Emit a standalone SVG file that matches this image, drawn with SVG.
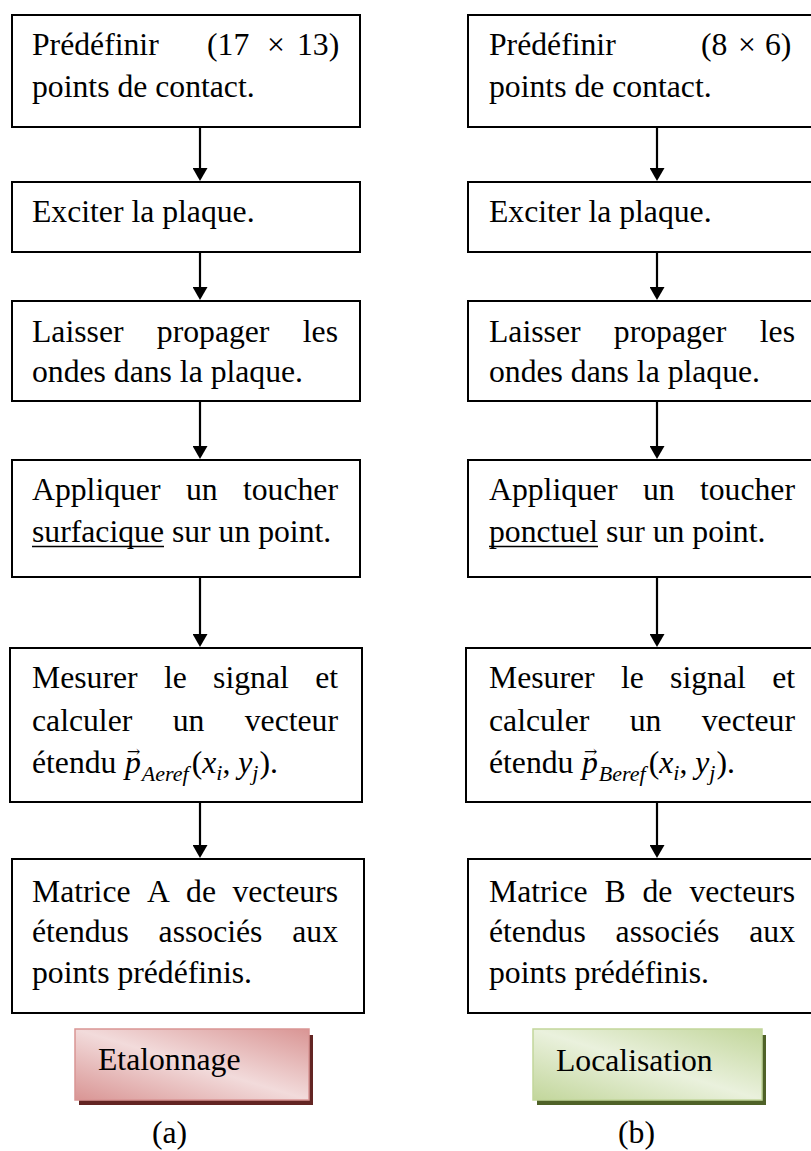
<svg xmlns="http://www.w3.org/2000/svg" width="811" height="1151" viewBox="0 0 811 1151">
<style>
.box{fill:#fff;stroke:#000;stroke-width:2}
.t{font-family:"Liberation Serif","Times New Roman",serif;font-size:31.7px;fill:#000}
.e{text-anchor:end}
.i{font-style:italic}
.sub{font-size:22px;font-style:italic}
.vec{font-family:"DejaVu Serif","Liberation Serif",serif;font-size:16px;fill:#000}
.con{stroke:#000;stroke-width:2.2;fill:none;marker-end:url(#ah)}
.ul{stroke:#000;stroke-width:1.6}
</style>
<defs>
<marker id="ah" markerWidth="13" markerHeight="15" refX="7" refY="7.5" orient="auto" markerUnits="userSpaceOnUse">
<path d="M0,0 L13,7.5 L0,15 z" fill="#000"/>
</marker>
<linearGradient id="gPink" x1="1" y1="0" x2="0" y2="1">
<stop offset="0" stop-color="#d99594"/>
<stop offset="0.5" stop-color="#f2dbdb"/>
<stop offset="1" stop-color="#d99594"/>
</linearGradient>
<linearGradient id="gGreen" x1="1" y1="0" x2="0" y2="1">
<stop offset="0" stop-color="#c2d69b"/>
<stop offset="0.5" stop-color="#eaf1dd"/>
<stop offset="1" stop-color="#c2d69b"/>
</linearGradient>
</defs>
<rect width="811" height="1151" fill="#fff"/>

<g id="connectors">
<line class="con" x1="200" y1="127" x2="200" y2="175"/>
<line class="con" x1="200" y1="252" x2="200" y2="294"/>
<line class="con" x1="200" y1="401" x2="200" y2="453"/>
<line class="con" x1="200" y1="577" x2="200" y2="641"/>
<line class="con" x1="200" y1="802" x2="200" y2="852"/>
<line class="con" x1="657" y1="127" x2="657" y2="175"/>
<line class="con" x1="657" y1="252" x2="657" y2="294"/>
<line class="con" x1="657" y1="401" x2="657" y2="453"/>
<line class="con" x1="657" y1="577" x2="657" y2="641"/>
<line class="con" x1="657" y1="802" x2="657" y2="852"/>
</g>

<!-- Left column (a) -->
<g id="a1">
<rect class="box" x="12" y="15" width="348" height="112"/>
<text class="t" x="32" y="55">Prédéfinir</text>
<text class="t" x="207" y="55">(17</text>
<text class="t" x="267" y="55">×</text>
<text class="t" x="297" y="55">13)</text>
<text class="t" x="32" y="97">points de contact.</text>
</g>
<g id="a2">
<rect class="box" x="12" y="182" width="348" height="70"/>
<text class="t" x="32" y="222">Exciter la plaque.</text>
</g>
<g id="a3">
<rect class="box" x="12" y="301" width="348" height="100"/>
<text class="t" x="32" y="341.5">Laisser</text>
<text class="t" x="156.8" y="341.5">propager</text>
<text class="t e" x="338" y="341.5">les</text>
<text class="t" x="32" y="382">ondes dans la plaque.</text>
</g>
<g id="a4">
<rect class="box" x="12" y="460" width="348" height="117"/>
<text class="t" x="32" y="500">Appliquer</text>
<text class="t" x="185.9" y="500">un</text>
<text class="t e" x="338" y="500">toucher</text>
<text class="t" x="32" y="541.5">surfacique sur un point.</text>
<line class="ul" x1="32" y1="546.5" x2="164" y2="546.5"/>
</g>
<g id="a5">
<rect class="box" x="10" y="648" width="352" height="154"/>
<text class="t" x="32" y="688">Mesurer</text>
<text class="t" x="163.9" y="688">le</text>
<text class="t" x="213.1" y="688">signal</text>
<text class="t e" x="338" y="688">et</text>
<text class="t" x="32" y="731">calculer</text>
<text class="t" x="172.7" y="731">un</text>
<text class="t e" x="338" y="731">vecteur</text>
<text class="t" x="32" y="773">étendu <tspan class="i" x="125">p</tspan><tspan class="sub" dx="1" dy="8">Aeref</tspan><tspan dx="3" dy="-8">(</tspan><tspan class="i">x</tspan><tspan class="sub" dy="7">i</tspan><tspan dy="-7">, </tspan><tspan class="i">y</tspan><tspan class="sub" dy="7">j</tspan><tspan dx="1" dy="-7">).</tspan></text>
<text class="vec" x="127" y="757">→</text>
</g>
<g id="a6">
<rect class="box" x="12" y="859" width="352" height="154"/>
<text class="t" x="32" y="901.5">Matrice</text>
<text class="t" x="146.9" y="901.5">A</text>
<text class="t" x="186.1" y="901.5">de</text>
<text class="t e" x="338" y="901.5">vecteurs</text>
<text class="t" x="32" y="942">étendus</text>
<text class="t" x="158.6" y="942">associés</text>
<text class="t e" x="338" y="942">aux</text>
<text class="t" x="32" y="983">points prédéfinis.</text>
</g>
<g id="labelA">
<rect x="79" y="1035" width="234" height="70" fill="#632523"/>
<rect x="75" y="1029" width="234" height="71" fill="url(#gPink)" stroke="#d99594" stroke-width="1.5"/>
<text class="t" x="98" y="1070">Etalonnage</text>
</g>
<g id="capA">
<text class="t" x="152" y="1143">(a)</text>
</g>

<!-- Right column (b) -->
<g id="b1">
<rect class="box" x="468" y="15" width="350" height="112"/>
<text class="t" x="489" y="55">Prédéfinir</text>
<text class="t" x="701" y="55">(8</text>
<text class="t" x="738" y="55">×</text>
<text class="t" x="765" y="55">6)</text>
<text class="t" x="489" y="97">points de contact.</text>
</g>
<g id="b2">
<rect class="box" x="468" y="182" width="350" height="70"/>
<text class="t" x="489" y="222">Exciter la plaque.</text>
</g>
<g id="b3">
<rect class="box" x="468" y="301" width="350" height="100"/>
<text class="t" x="489" y="341.5">Laisser</text>
<text class="t" x="613.8" y="341.5">propager</text>
<text class="t e" x="795" y="341.5">les</text>
<text class="t" x="489" y="382">ondes dans la plaque.</text>
</g>
<g id="b4">
<rect class="box" x="468" y="460" width="350" height="117"/>
<text class="t" x="489" y="500">Appliquer</text>
<text class="t" x="642.9" y="500">un</text>
<text class="t e" x="795" y="500">toucher</text>
<text class="t" x="489" y="541.5">ponctuel sur un point.</text>
<line class="ul" x1="489" y1="546.5" x2="598" y2="546.5"/>
</g>
<g id="b5">
<rect class="box" x="466" y="648" width="352" height="154"/>
<text class="t" x="489" y="688">Mesurer</text>
<text class="t" x="620.9" y="688">le</text>
<text class="t" x="670.1" y="688">signal</text>
<text class="t e" x="795" y="688">et</text>
<text class="t" x="489" y="731">calculer</text>
<text class="t" x="629.7" y="731">un</text>
<text class="t e" x="795" y="731">vecteur</text>
<text class="t" x="489" y="773">étendu <tspan class="i" x="582">p</tspan><tspan class="sub" dx="1" dy="8">Beref</tspan><tspan dx="3" dy="-8">(</tspan><tspan class="i">x</tspan><tspan class="sub" dy="7">i</tspan><tspan dy="-7">, </tspan><tspan class="i">y</tspan><tspan class="sub" dy="7">j</tspan><tspan dx="1" dy="-7">).</tspan></text>
<text class="vec" x="584" y="757">→</text>
</g>
<g id="b6">
<rect class="box" x="468" y="859" width="352" height="154"/>
<text class="t" x="489" y="901.5">Matrice</text>
<text class="t" x="604.5" y="901.5">B</text>
<text class="t" x="642.5" y="901.5">de</text>
<text class="t e" x="795" y="901.5">vecteurs</text>
<text class="t" x="489" y="942">étendus</text>
<text class="t" x="615.6" y="942">associés</text>
<text class="t e" x="795" y="942">aux</text>
<text class="t" x="489" y="983">points prédéfinis.</text>
</g>
<g id="labelB">
<rect x="537" y="1035" width="229" height="70" fill="#4f6228"/>
<rect x="533" y="1029" width="229" height="71" fill="url(#gGreen)" stroke="#c2d69b" stroke-width="1.5"/>
<text class="t" x="556" y="1071">Localisation</text>
</g>
<g id="capB">
<text class="t" x="618" y="1143">(b)</text>
</g>
</svg>
